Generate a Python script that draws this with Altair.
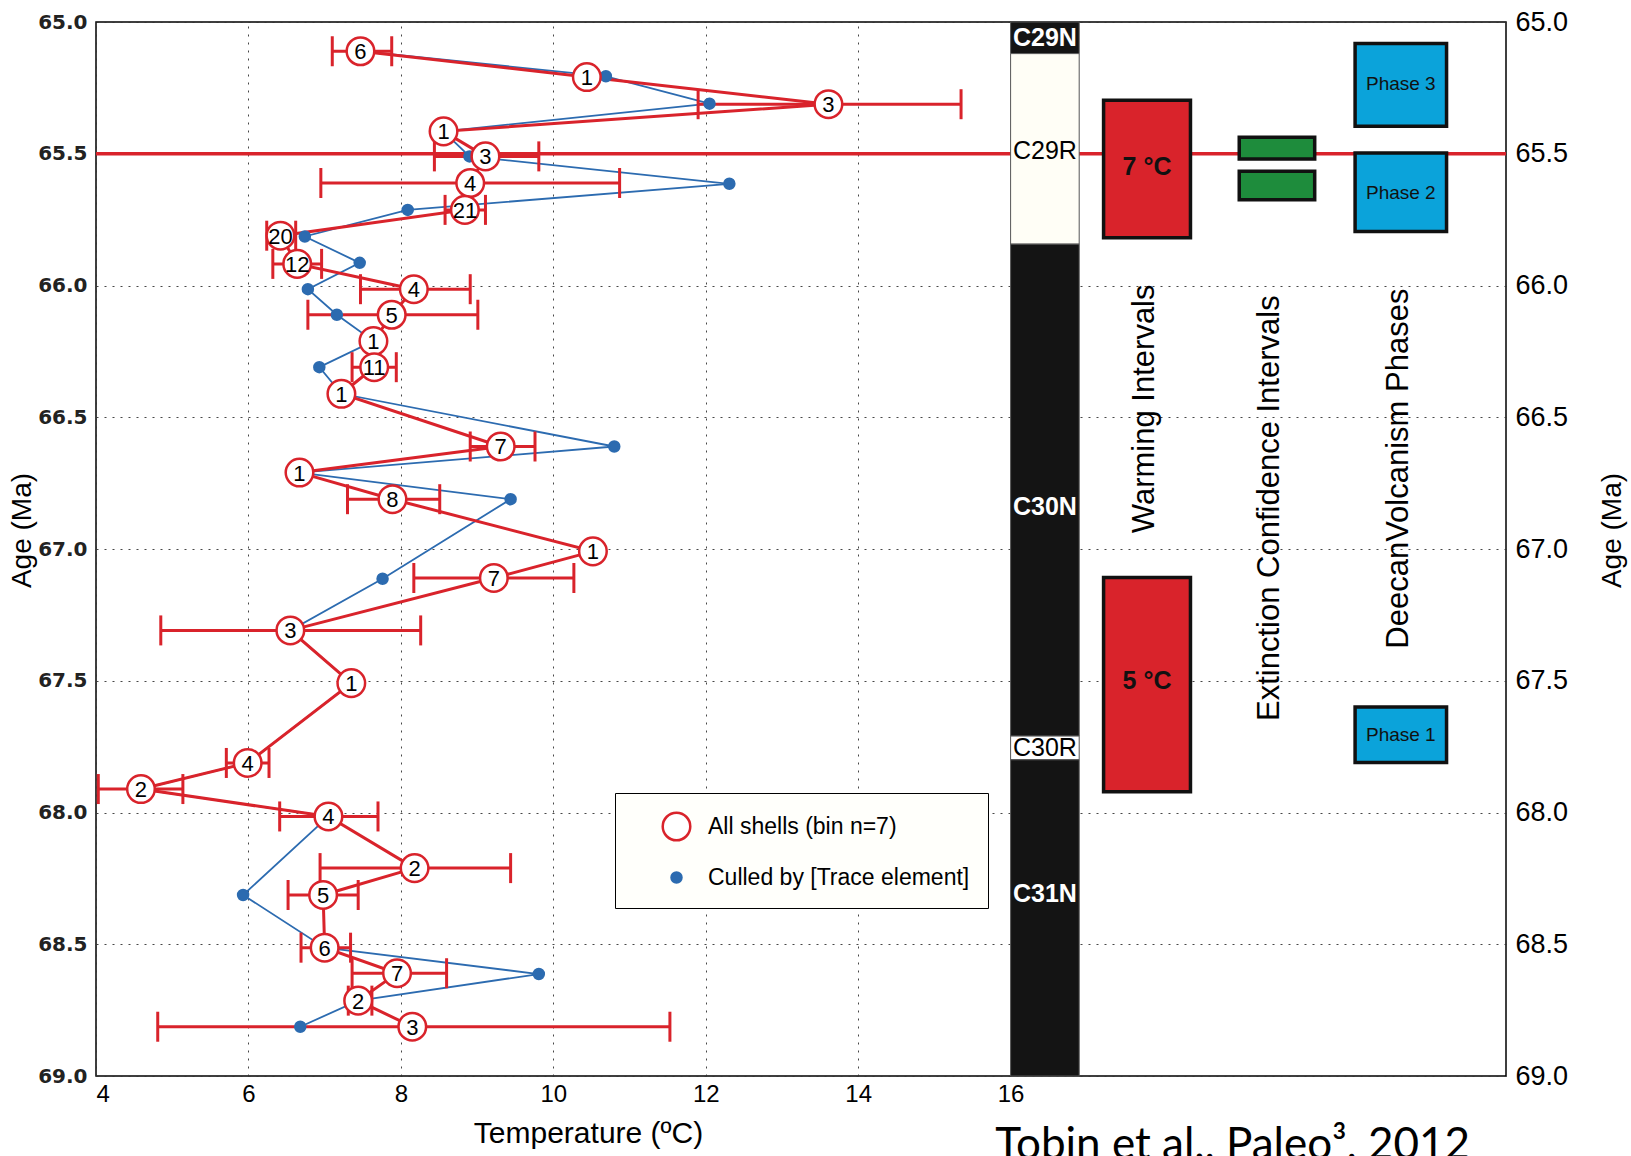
import altair as alt
import pandas as pd

# ---------------- data ----------------
# All shells, binned (red): age (Ma), temperature (C), bin size n, error bar low/high
red_age = [65.111, 65.209, 65.312, 65.415, 65.510, 65.611, 65.713, 65.811, 65.918, 66.014,
           66.111, 66.211, 66.310, 66.411, 66.611, 66.710, 66.811, 67.009, 67.110, 67.309,
           67.509, 67.812, 67.911, 68.015, 68.211, 68.313, 68.513, 68.610, 68.714, 68.813]
red_temp = [7.47, 10.44, 13.61, 8.56, 9.11, 8.91, 8.84, 6.42, 6.64, 8.17,
            7.88, 7.64, 7.65, 7.22, 9.31, 6.67, 7.89, 10.52, 9.22, 6.55,
            7.35, 5.99, 4.59, 7.05, 8.18, 6.98, 7.00, 7.95, 7.44, 8.15]
red_n = [6, 1, 3, 1, 3, 4, 21, 20, 12, 4,
         5, 1, 11, 1, 7, 1, 8, 1, 7, 3,
         1, 4, 2, 4, 2, 5, 6, 7, 2, 3]
red_lo = [7.10, None, 11.90, None, 8.44, 6.95, 8.58, 6.24, 6.32, 7.47,
          6.78, None, 7.36, None, 8.91, None, 7.30, None, 8.17, 4.85,
          None, 5.71, 4.03, 6.41, 6.94, 6.52, 6.69, 7.36, 7.31, 4.81]
red_hi = [7.88, None, 15.35, None, 9.81, 10.87, 9.11, 6.62, 6.96, 8.91,
          9.01, None, 7.94, None, 9.76, None, 8.51, None, 10.27, 8.26,
          None, 6.27, 5.14, 7.70, 9.44, 7.44, 7.34, 8.60, 7.62, 11.53]

# Culled by trace element (blue)
blue_age = [65.111, 65.206, 65.310, 65.415, 65.510, 65.614, 65.713, 65.814, 65.914, 66.014,
            66.111, 66.211, 66.310, 66.411, 66.611, 66.710, 66.811, 67.113, 67.309, 67.509,
            67.812, 67.911, 68.015, 68.313, 68.513, 68.613, 68.714, 68.813]
blue_temp = [7.47, 10.69, 12.05, 8.56, 8.90, 12.31, 8.09, 6.74, 7.46, 6.78,
             7.16, 7.64, 6.93, 7.22, 10.80, 6.67, 9.44, 7.76, 6.55, 7.35,
             5.99, 4.59, 7.05, 5.93, 7.00, 9.81, 7.44, 6.68]

series_names = ["All shells (bin n=7)", "Culled by [Trace element]"]

x_ticks = [4, 6, 8, 10, 12, 14, 16]
y_ticks = [65.0, 65.5, 66.0, 66.5, 67.0, 67.5, 68.0, 68.5, 69.0]
ref_age = [65.5]

# magnetic polarity chrons
chron_names = ["C29N", "C29R", "C30N", "C30R", "C31N"]
chron_top = [65.0, 65.12, 65.843, 67.71, 67.80]
chron_bottom = [65.12, 65.843, 67.71, 67.80, 69.0]
chron_fill = ["#141414", "#FFFEF6", "#141414", "#FFFFFF", "#141414"]
chron_label_age = [65.06, 65.49, 66.84, 67.755, 68.31]
chron_label_color = ["white", "black", "white", "black", "white"]

# interval boxes: warming, extinction, Deccan phases
box_kind = ["warm", "warm", "ext", "ext", "phase", "phase", "phase"]
box_top = [65.297, 67.108, 65.437, 65.566, 65.082, 65.497, 67.60]
box_bottom = [65.819, 67.921, 65.520, 65.675, 65.396, 65.795, 67.81]
box_label = ["7 °C", "5 °C", "", "", "Phase 3", "Phase 2", "Phase 1"]
box_label_age = [65.55, 67.50, 65.48, 65.62, 65.235, 65.65, 67.705]

category_labels = ["Warming Intervals", "Extinction Confidence Intervals", "DeecanVolcanism Phases"]
category_label_age = [66.468, 66.845, 66.695]

citation = ["Tobin et al., Paleo³, 2012"]

# ---------------- layout constants ----------------
RED = "#D9232B"
BLUE = "#2C6BB0"
GREEN = "#1E8C3C"
CYAN = "#0BA3DA"
col_x = {"warm": (17.22, 18.36), "ext": (19.0, 19.99), "phase": (20.52, 21.72)}
col_fill = {"warm": RED, "ext": GREEN, "phase": CYAN}
chron_x = (16.0, 16.9)
cat_x = [17.77, 19.41, 21.09]

W, H = 1410, 1054
xs = alt.Scale(domain=[4, 22.5], nice=False, zero=False)
ys = alt.Scale(domain=[65, 69], reverse=True, nice=False, zero=False)

# ---------------- tables ----------------
red_df = pd.DataFrame({"age": red_age, "temp": red_temp, "n": red_n, "lo": red_lo, "hi": red_hi})
blue_df = pd.DataFrame({"age": blue_age, "temp": blue_temp})
err_df = red_df.dropna(subset=["lo"]).copy()
caps_df = pd.concat([
    pd.DataFrame({"age": err_df["age"], "xv": err_df["lo"]}),
    pd.DataFrame({"age": err_df["age"], "xv": err_df["hi"]}),
])
pts_df = pd.concat([
    pd.DataFrame({"age": blue_age, "temp": blue_temp, "series": series_names[1]}),
    pd.DataFrame({"age": red_age, "temp": red_temp, "series": series_names[0]}),
], ignore_index=True)

chron_df = pd.DataFrame({"name": chron_names, "top": chron_top, "bottom": chron_bottom,
                         "fill": chron_fill, "lab_age": chron_label_age,
                         "lab_color": chron_label_color,
                         "x0": chron_x[0], "x1": chron_x[1],
                         "xm": (chron_x[0] + chron_x[1]) / 2})
box_df = pd.DataFrame({"kind": box_kind, "top": box_top, "bottom": box_bottom,
                       "label": box_label, "lab_age": box_label_age})
box_df["x0"] = [col_x[k][0] for k in box_kind]
box_df["x1"] = [col_x[k][1] for k in box_kind]
box_df["xm"] = (box_df["x0"] + box_df["x1"]) / 2
box_df["fill"] = [col_fill[k] for k in box_kind]
cat_df = pd.DataFrame({"label": category_labels, "age": category_label_age, "x": cat_x})
cite_df = pd.DataFrame({"label": citation, "x": [15.80], "age": [69.316]})
ref_df = pd.DataFrame({"age": ref_age})

# ---------------- axes ----------------
grid_kw = dict(grid=True, gridDash=[2, 6], gridColor="#333333", gridOpacity=0.9, gridWidth=1)
x_axis = alt.Axis(orient="bottom", values=x_ticks, labelFontSize=24, labelPadding=6,
                  ticks=False, domain=False, title="Temperature (ºC)", titleFontSize=30,
                  titleFontWeight="normal", titleX=492, titleAlign="center",
                  titlePadding=12, labelColor="black", titleColor="black", **grid_kw)
y_left = alt.Axis(orient="left", values=y_ticks, format=".1f", labelFont="DejaVu Sans",
                  labelFontWeight="bold", labelFontSize=20, labelColor="#222222",
                  labelPadding=9, ticks=False, domain=False, title="Age (Ma)",
                  titleFontSize=28, titleFontWeight="normal", titleX=-66, titleY=508,
                  titleAngle=270, titleAlign="center", titleBaseline="alphabetic",
                  titleColor="black", **grid_kw)
y_right = alt.Axis(orient="right", values=y_ticks, format=".1f", labelFontSize=27,
                   labelPadding=9, ticks=False, domain=False, grid=False, title="Age (Ma)",
                   titleFontSize=28, titleFontWeight="normal", titleX=114, titleY=508,
                   titleAngle=270, titleAlign="center", titleBaseline="alphabetic",
                   labelColor="black", titleColor="black")

def X(field, **kw):
    # every layer carries the same x axis so that the shared axis merges cleanly
    return alt.X(field, scale=xs, axis=x_axis, **kw)

def Y(field, **kw):
    return alt.Y(field, scale=ys, axis=None, **kw)

# ---------------- layers ----------------
ref_rule = alt.Chart(ref_df).mark_rule(color=RED, strokeWidth=3.5).encode(
    y=alt.Y("age:Q", scale=ys, axis=y_right))

blue_line = alt.Chart(blue_df).mark_line(color=BLUE, strokeWidth=1.8).encode(
    x=X("temp:Q"), y=Y("age:Q"), order="age:Q")
red_line = alt.Chart(red_df).mark_line(color=RED, strokeWidth=3).encode(
    x=X("temp:Q"), y=Y("age:Q"), order="age:Q")

err_rule = alt.Chart(err_df).mark_rule(color=RED, strokeWidth=3).encode(
    x=X("lo:Q"), x2="hi:Q", y=Y("age:Q"))
err_caps = alt.Chart(caps_df).mark_tick(color=RED, orient="vertical", size=30,
                                        thickness=3, opacity=1).encode(
    x=X("xv:Q"), y=Y("age:Q"))

leg = alt.Legend(orient="none", legendX=519, legendY=771, title=None, labelFontSize=23,
                 labelColor="black", padding=18, rowPadding=20, fillColor="#FFFFFB",
                 strokeColor="black", symbolStrokeWidth=2.5, labelOffset=16,
                 symbolOffset=28, labelLimit=400)
points = alt.Chart(pts_df).mark_point(filled=True, opacity=1, strokeWidth=2.5,
                                      fillOpacity=1).encode(
    x=X("temp:Q"),
    y=alt.Y("age:Q", scale=ys, axis=y_left),
    fill=alt.Fill("series:N", scale=alt.Scale(domain=series_names, range=["white", BLUE]),
                  legend=leg),
    stroke=alt.Stroke("series:N", scale=alt.Scale(domain=series_names, range=[RED, BLUE]),
                      legend=leg),
    size=alt.Size("series:N", scale=alt.Scale(domain=series_names, range=[760, 100]),
                  legend=leg),
    order=alt.Order("series:N", sort="descending"),
)
numbers = alt.Chart(red_df).mark_text(fontSize=22, color="black", dy=1).encode(
    x=X("temp:Q"), y=Y("age:Q"), text="n:N")

chron_rect = alt.Chart(chron_df).mark_rect(stroke="#555555", strokeWidth=1).encode(
    x=X("x0:Q"), x2="x1:Q", y=Y("top:Q"), y2="bottom:Q",
    fill=alt.Fill("fill:N", scale=None))
chron_lab_w = alt.Chart(chron_df).transform_filter("datum.lab_color == 'white'").mark_text(
    fontSize=25, fontWeight="bold", color="white").encode(
    x=X("xm:Q"), y=Y("lab_age:Q"), text="name:N")
chron_lab_b = alt.Chart(chron_df).transform_filter("datum.lab_color == 'black'").mark_text(
    fontSize=25, color="black").encode(
    x=X("xm:Q"), y=Y("lab_age:Q"), text="name:N")

boxes = alt.Chart(box_df).mark_rect(stroke="#111111", strokeWidth=3.5).encode(
    x=X("x0:Q"), x2="x1:Q", y=Y("top:Q"), y2="bottom:Q",
    fill=alt.Fill("fill:N", scale=None))
warm_lab = alt.Chart(box_df).transform_filter("datum.kind == 'warm'").mark_text(
    fontSize=25, fontWeight="bold", color="#111111").encode(
    x=X("xm:Q"), y=Y("lab_age:Q"), text="label:N")
phase_lab = alt.Chart(box_df).transform_filter("datum.kind == 'phase'").mark_text(
    fontSize=19, color="#111111").encode(
    x=X("xm:Q"), y=Y("lab_age:Q"), text="label:N")

cat_lab = alt.Chart(cat_df).mark_text(fontSize=31, angle=270, color="black").encode(
    x=X("x:Q"), y=Y("age:Q"), text="label:N")

cite = alt.Chart(cite_df).mark_text(fontSize=44, font="Lato", align="left",
                                    baseline="alphabetic", color="black").encode(
    x=X("x:Q"), y=Y("age:Q"), text="label:N")

chart = alt.layer(
    ref_rule, blue_line, red_line, err_rule, err_caps, points, numbers,
    chron_rect, chron_lab_w, chron_lab_b, boxes, warm_lab, phase_lab, cat_lab, cite
).resolve_axis(y="independent").properties(
    width=W, height=H,
    autosize=alt.AutoSizeParams(type="none"),
    padding={"left": 96, "top": 22, "right": 125, "bottom": 80},
).configure(font="Liberation Sans").configure_view(
    stroke="black", strokeWidth=1.5
)

chart.save("out.html", embed_options={"renderer": "svg", "actions": False})
